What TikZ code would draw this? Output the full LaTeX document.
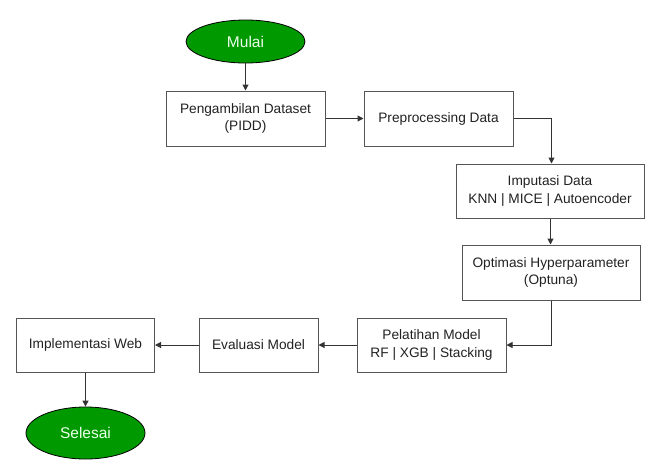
\documentclass[tikz,border=0pt]{standalone}
\usepackage{fontspec}
\setmainfont{Liberation Sans}
\usetikzlibrary{shapes.geometric,arrows.meta}
\definecolor{termgreen}{HTML}{009900}
\definecolor{boxline}{HTML}{555555}
\definecolor{txt}{HTML}{222222}
\begin{document}
\begin{tikzpicture}[x=1pt,y=-1pt,
  every node/.style={font=\fontsize{13.7}{17.5}\selectfont, text=txt, align=center, inner sep=0pt},
  procbox/.style={draw=boxline, line width=1pt, fill=white, rectangle},
  term/.style={ellipse, draw=black, line width=0.8pt, fill=termgreen, text=white!92!green, font=\fontsize{15.5}{18}\selectfont},
  conn/.style={draw=black!80, line width=1pt, -{Triangle[length=6pt,width=6pt]}}
]
\useasboundingbox (0,0) rectangle (653,461);
\node[term, minimum width=119pt, minimum height=43pt] (mulai) at (245.5,41.5) {Mulai};
\node[procbox, minimum width=159pt, minimum height=55pt] (p1) at (245.5,118.5) {Pengambilan Dataset\\(PIDD)};
\node[procbox, minimum width=149pt, minimum height=55pt] (p2) at (438.5,118.5) {Preprocessing Data};
\node[procbox, minimum width=188pt, minimum height=54pt] (p3) at (550,191) {Imputasi Data\\KNN | MICE | Autoencoder};
\node[procbox, minimum width=178pt, minimum height=55pt] (p4) at (551,272.5) {Optimasi Hyperparameter\\(Optuna)};
\node[procbox, minimum width=149pt, minimum height=54pt] (p5) at (431.5,345) {Pelatihan Model\\RF | XGB | Stacking};
\node[procbox, minimum width=119pt, minimum height=54pt] (p6) at (258.5,345) {Evaluasi Model};
\node[procbox, minimum width=138pt, minimum height=54pt] (p7) at (85.5,345) {Implementasi Web};
\node[term, minimum width=119pt, minimum height=52pt] (selesai) at (85.5,433) {Selesai};
\draw[conn] (mulai) -- (p1);
\draw[conn] (p1) -- (p2);
\draw[conn] (p2.east) -| ([xshift=1.5pt]p3.north);
\draw[conn] ([xshift=0.5pt]p3.south) -- ([xshift=0.5pt]p3.south |- p4.north);
\draw[conn] (p4.south) |- (p5.east);
\draw[conn] (p5) -- (p6);
\draw[conn] (p6) -- (p7);
\draw[conn] (p7) -- (selesai);
\end{tikzpicture}
\end{document}
